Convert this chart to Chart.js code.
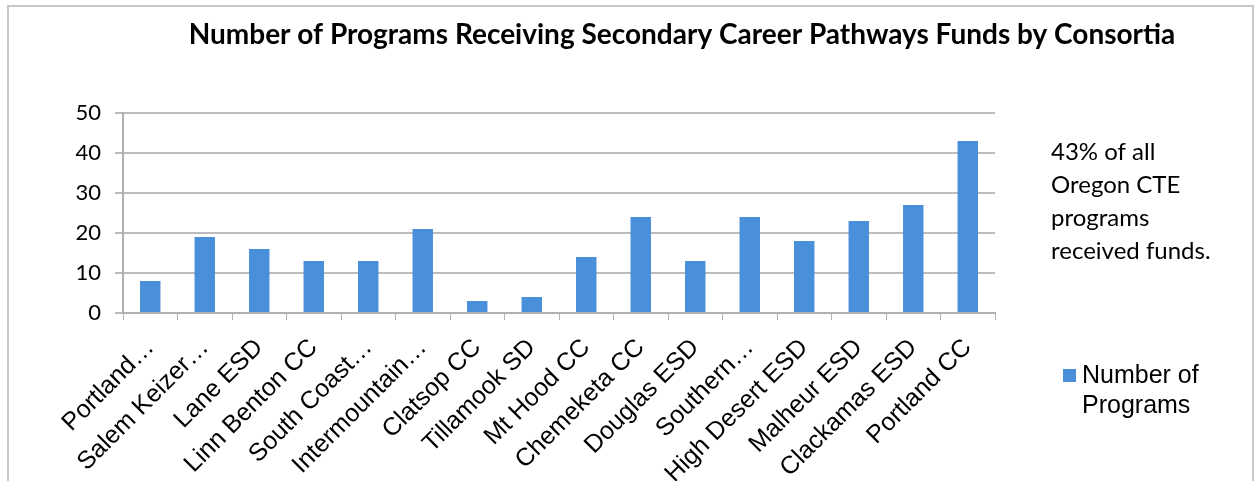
<!DOCTYPE html>
<html>
<head>
    <title>Secondary Career Pathways Funds</title>
    <script src="https://cdn.jsdelivr.net/npm/chart.js"></script>
    <style>
        body { margin: 0; background: #fff; }
        #wrap { width: 1256px; height: 481px; }
    </style>
</head>
<body>
    <div id="wrap"><canvas id="fundsChart"></canvas></div>

    <script>
        const chartTitle = 'Number of Programs Receiving Secondary Career Pathways Funds by Consortia';
        const consortia = ['Portland…', 'Salem Keizer…', 'Lane ESD', 'Linn Benton CC', 'South Coast…',
            'Intermountain…', 'Clatsop CC', 'Tillamook SD', 'Mt Hood CC', 'Chemeketa CC', 'Douglas ESD',
            'Southern…', 'High Desert ESD', 'Malheur ESD', 'Clackamas ESD', 'Portland CC'];
        const programs = [8, 19, 16, 13, 13, 21, 3, 4, 14, 24, 13, 24, 18, 23, 27, 43];
        const yTicks = [0, 10, 20, 30, 40, 50];
        const note = ['43% of all', 'Oregon CTE', 'programs', 'received funds.'];
        const seriesName = ['Number of', 'Programs'];

        // frame, title, side note and a wrapped legend drawn by hand
        const extras = {
            id: 'extras',
            beforeDraw(chart) {
                const ctx = chart.ctx;
                ctx.save();
                ctx.strokeStyle = '#c8c8c8';
                ctx.lineWidth = 2;
                ctx.strokeRect(8, 6, 1245, 478);
                ctx.restore();
            },
            afterDraw(chart) {
                const ctx = chart.ctx;
                ctx.save();
                ctx.fillStyle = '#000';
                ctx.textBaseline = 'middle';

                ctx.font = 'bold 28px Lato';
                ctx.textAlign = 'center';
                ctx.fillText(chartTitle, 682, 35);

                ctx.textAlign = 'left';
                ctx.font = '24px Lato';
                note.forEach((line, i) => ctx.fillText(line, 1051, 152 + i * 33));

                const ds = chart.data.datasets[0];
                ctx.fillStyle = ds.backgroundColor;
                ctx.fillRect(1063, 369, 13, 13);
                ctx.fillStyle = '#000';
                ctx.font = '25px "Liberation Sans"';
                seriesName.forEach((line, i) => ctx.fillText(line, 1082, 376 + i * 30));
                ctx.restore();
            }
        };

        new Chart(document.getElementById('fundsChart'), {
            type: 'bar',
            data: {
                labels: consortia,
                datasets: [{
                    label: seriesName.join(' '),
                    data: programs,
                    backgroundColor: '#4a8fda',
                    barPercentage: 0.75,
                    categoryPercentage: 0.5
                }]
            },
            options: {
                responsive: true,
                maintainAspectRatio: false,
                animation: false,
                layout: { padding: { left: 0, right: 261, top: 113, bottom: 0 } },
                plugins: {
                    legend: { display: false },
                    tooltip: { enabled: false },
                    title: { display: false }
                },
                scales: {
                    x: {
                        grid: { display: true, drawOnChartArea: false, color: '#b0b0b0', tickLength: 7, offset: true },
                        border: { color: '#b0b0b0', width: 2 },
                        ticks: {
                            color: '#000',
                            font: { family: 'Liberation Sans', size: 25 },
                            maxRotation: 45,
                            minRotation: 45,
                            autoSkip: false,
                            padding: 13
                        },
                        afterFit(scale) { scale.height = 168; }
                    },
                    y: {
                        min: 0,
                        max: 50,
                        afterBuildTicks(scale) { scale.ticks = yTicks.map(v => ({ value: v })); },
                        grid: { color: '#bcbcbc', lineWidth: 2, tickLength: 8 },
                        border: { color: '#b0b0b0', width: 2 },
                        ticks: {
                            color: '#000',
                            font: { family: 'Lato', size: 22 },
                            padding: 14
                        },
                        afterFit(scale) { scale.width = 123; }
                    }
                }
            },
            plugins: [extras]
        });
    </script>
</body>
</html>
